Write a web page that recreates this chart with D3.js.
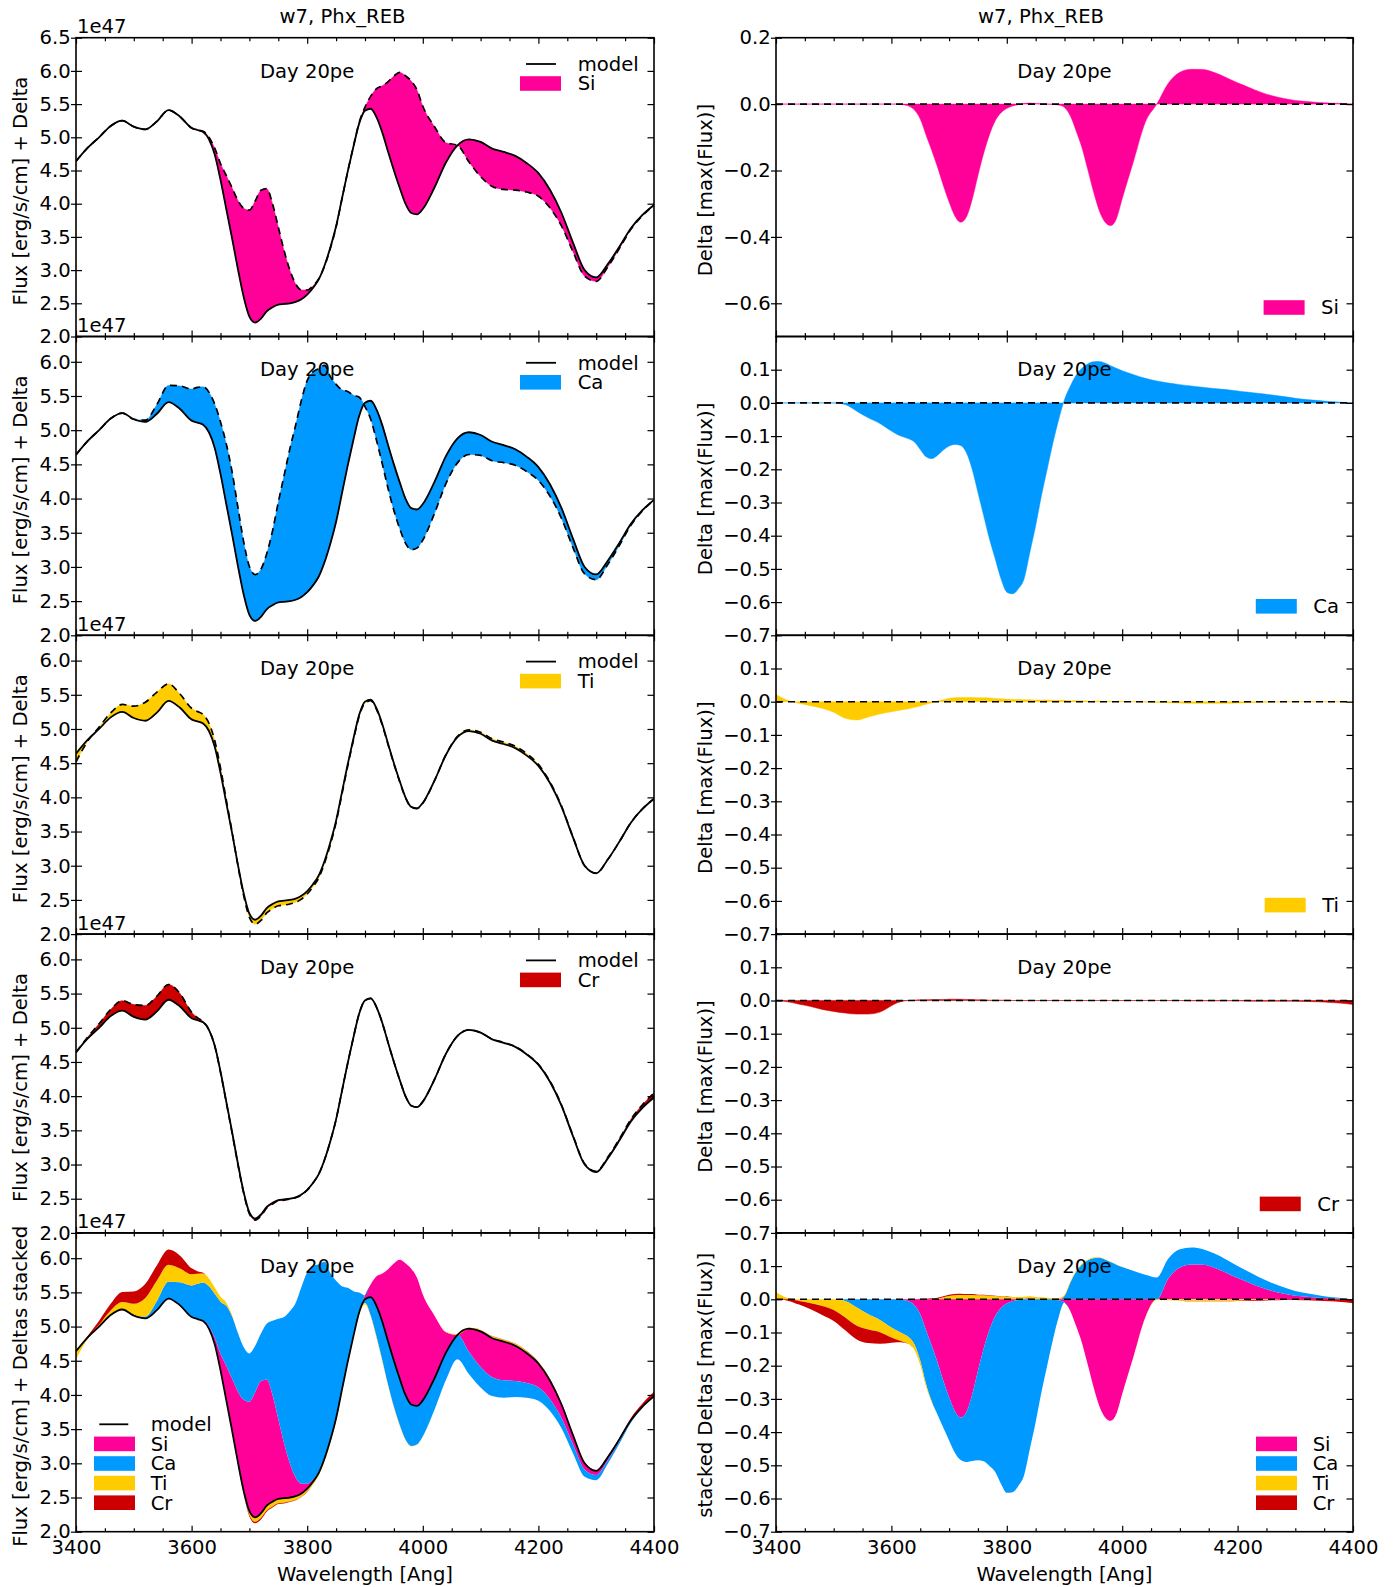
<!DOCTYPE html>
<html>
<head>
<meta charset="utf-8">
<script src="https://cdn.jsdelivr.net/npm/d3@7"></script>
<style>
  body { margin: 0; background: #fff; }
  text { font-family: "DejaVu Sans", sans-serif; font-size: 19.6px; fill: #000; }
</style>
</head>
<body>
<svg id="chart" width="1397" height="1587"></svg>
<script>
// ---------------- data ----------------
const WAVE = [3400,3420,3440,3460,3480,3500,3520,3540,3560,3580,3600,
  3610,3620,3630,3640,3650,3660,3670,3680,3690,3700,
  3710,3720,3730,3740,3750,3760,3770,3780,3790,3800,
  3810,3820,3830,3840,3850,3860,3870,3880,3890,3900,
  3910,3920,3930,3940,3950,3960,3970,3980,3990,4000,
  4020,4040,4060,4080,4100,4120,4140,4160,4180,4200,
  4220,4240,4260,4280,4300,4320,4340,4360,4380,4400];

// model flux [1e47 erg/s/cm]
const MODEL = [4.64,4.84,5.00,5.17,5.25,5.16,5.12,5.24,5.41,5.31,5.14,
  5.11,5.08,4.97,4.74,4.36,3.92,3.48,3.02,2.60,2.30,
  2.21,2.27,2.38,2.44,2.48,2.49,2.50,2.52,2.56,2.63,
  2.73,2.86,3.07,3.34,3.66,4.07,4.48,4.86,5.21,5.40,
  5.43,5.30,5.07,4.78,4.50,4.24,4.00,3.86,3.84,3.92,
  4.24,4.62,4.88,4.97,4.93,4.83,4.78,4.72,4.61,4.46,
  4.21,3.86,3.41,3.00,2.89,3.09,3.35,3.63,3.83,3.98];

// deltas [max(Flux)]
const SI = [0,0,0,0,0,0,0,0,0,0,0,
  0,-0.002,-0.006,-0.018,-0.045,-0.093,-0.14,-0.19,-0.245,-0.295,
  -0.337,-0.356,-0.34,-0.287,-0.215,-0.148,-0.092,-0.05,-0.026,-0.013,
  -0.006,-0.002,0.002,0.003,0.002,0.001,0,-0.001,-0.003,-0.01,
  -0.035,-0.08,-0.13,-0.195,-0.262,-0.32,-0.355,-0.366,-0.345,-0.285,
  -0.17,-0.055,0,0.063,0.096,0.105,0.104,0.095,0.08,0.064,
  0.05,0.036,0.025,0.017,0.011,0.008,0.005,0.003,0.002,0];

const CA = [0,0,0,0,0,0,-0.005,-0.025,-0.045,-0.062,-0.085,
  -0.095,-0.102,-0.108,-0.118,-0.14,-0.162,-0.168,-0.158,-0.142,-0.13,
  -0.125,-0.128,-0.15,-0.2,-0.27,-0.34,-0.41,-0.47,-0.53,-0.57,
  -0.575,-0.56,-0.53,-0.45,-0.37,-0.28,-0.2,-0.12,-0.05,0.01,
  0.05,0.083,0.104,0.117,0.124,0.125,0.12,0.112,0.104,0.097,
  0.085,0.074,0.066,0.06,0.055,0.051,0.047,0.043,0.04,0.036,
  0.032,0.028,0.024,0.019,0.014,0.01,0.007,0.004,0.002,0];

const TI = [0.022,0.004,-0.005,-0.012,-0.02,-0.032,-0.05,-0.055,-0.046,-0.037,-0.03,
  -0.027,-0.024,-0.021,-0.017,-0.013,-0.008,-0.003,0.002,0.006,0.01,
  0.012,0.013,0.013,0.013,0.012,0.012,0.011,0.01,0.009,0.008,
  0.007,0.007,0.006,0.006,0.005,0.005,0.005,0.004,0.004,0.004,
  0.003,0.003,0.003,0.002,0.002,0.002,0.001,0.001,0.001,0.001,
  0,-0.001,-0.002,-0.003,-0.004,-0.005,-0.005,-0.005,-0.005,-0.004,
  -0.003,-0.002,-0.001,0,0,0,0,0,0,0];

const CR = [0,-0.004,-0.011,-0.018,-0.027,-0.033,-0.038,-0.041,-0.041,-0.035,-0.016,
  -0.007,-0.002,0,0.001,0.002,0.002,0.003,0.003,0.003,0.004,
  0.004,0.004,0.003,0.003,0.002,0.002,0.001,0.001,0.001,0.001,
  0,0,0,0,0,0,0,0,0,0,
  0,0,0,0,0,0,0,0,0,0,
  0,0,0,0,0,-0.001,-0.001,-0.001,-0.001,-0.001,
  -0.002,-0.002,-0.002,-0.002,-0.002,-0.003,-0.004,-0.006,-0.008,-0.012];

const ELEMENTS = ["Si", "Ca", "Ti", "Cr"];
const COLORS = {Si: "#ff0099", Ca: "#0099ff", Ti: "#ffcc00", Cr: "#cc0000"};
const X_TICKS = [3400, 3600, 3800, 4000, 4200, 4400];
const LEFT_Y_TICKS_FIRST = [2.0, 2.5, 3.0, 3.5, 4.0, 4.5, 5.0, 5.5, 6.0, 6.5];
const LEFT_Y_TICKS = [2.0, 2.5, 3.0, 3.5, 4.0, 4.5, 5.0, 5.5, 6.0];
const RIGHT_Y_TICKS_FIRST = [-0.6, -0.4, -0.2, 0.0, 0.2];
const RIGHT_Y_TICKS = [-0.7, -0.6, -0.5, -0.4, -0.3, -0.2, -0.1, 0.0, 0.1];
const TITLE = "w7, Phx_REB";
const DAY = "Day 20pe";
const XLABEL = "Wavelength [Ang]";
const LEFT_YLABELS = ["Flux [erg/s/cm] + Delta", "Flux [erg/s/cm] + Delta", "Flux [erg/s/cm] + Delta",
  "Flux [erg/s/cm] + Delta", "Flux [erg/s/cm] + Deltas stacked"];
const RIGHT_YLABELS = ["Delta [max(Flux)]", "Delta [max(Flux)]", "Delta [max(Flux)]",
  "Delta [max(Flux)]", "stacked Deltas [max(Flux)]"];

// ---------------- layout ----------------
const svg = d3.select("#chart");
const TOP0 = 37.7, PH = 298.8;
const LX = [76, 654], RX = [776, 1353];
const series = {Si: SI, Ca: CA, Ti: TI, Cr: CR};
const table = WAVE.map((w, i) => {
  const o = {wave: w, model: MODEL[i]};
  ELEMENTS.forEach(e => o[e] = series[e][i]);
  return o;
});
const MAXF = d3.max(MODEL);
// positive and negative parts are stacked separately (diverging stack without jumps)
const stackPos = d3.stack().keys(ELEMENTS).value((d, k) => Math.max(0, d[k]))(table);
const stackNeg = d3.stack().keys(ELEMENTS).value((d, k) => Math.min(0, d[k]))(table);
const curve = d3.curveMonotoneX;
const X_MINOR = d3.range(3400, 4401, 50).filter(v => v % 200 !== 0);
const fmt1 = d3.format(".1f");
let clipN = 0;

const xL = d3.scaleLinear().domain([3400, 4400]).range(LX);
const xR = d3.scaleLinear().domain([3400, 4400]).range(RX);

function clean(g) {
  g.select(".domain").remove();
  g.selectAll(".tick line").attr("stroke-width", 1.2);
  g.attr("font-size", null).attr("font-family", null);
}

function makePlot(x, top, bottom) {
  const id = "clip" + (clipN++);
  svg.append("clipPath").attr("id", id).append("rect")
    .attr("x", x.range()[0]).attr("y", top)
    .attr("width", x.range()[1] - x.range()[0]).attr("height", bottom - top);
  return svg.append("g").attr("clip-path", `url(#${id})`);
}

function axes(x, y, top, bottom, yTicks, showX) {
  const g = svg.append("g");
  const [x0, x1] = x.range();
  g.append("g").attr("transform", `translate(0,${bottom})`)
    .call(d3.axisBottom(x).tickValues(X_TICKS).tickSizeInner(-6).tickSizeOuter(0)
      .tickPadding(8.5).tickFormat(showX ? d3.format("d") : () => "")).call(clean);
  g.append("g").attr("transform", `translate(0,${bottom})`)
    .call(d3.axisBottom(x).tickValues(X_MINOR).tickSizeInner(-3.5).tickSizeOuter(0).tickFormat(() => "")).call(clean);
  g.append("g").attr("transform", `translate(0,${top})`)
    .call(d3.axisTop(x).tickValues(X_TICKS).tickSizeInner(-6).tickSizeOuter(0).tickFormat(() => "")).call(clean);
  g.append("g").attr("transform", `translate(0,${top})`)
    .call(d3.axisTop(x).tickValues(X_MINOR).tickSizeInner(-3.5).tickSizeOuter(0).tickFormat(() => "")).call(clean);
  g.append("g").attr("transform", `translate(${x0},0)`)
    .call(d3.axisLeft(y).tickValues(yTicks).tickSizeInner(-6).tickSizeOuter(0).tickPadding(5.3).tickFormat(fmt1)).call(clean);
  g.append("g").attr("transform", `translate(${x0},0)`)
    .call(d3.axisLeft(y).tickValues(yTicks).tickSizeInner(5).tickSizeOuter(0).tickFormat(() => "")).call(clean);
  g.append("g").attr("transform", `translate(${x1},0)`)
    .call(d3.axisRight(y).tickValues(yTicks).tickSizeInner(-6.5).tickSizeOuter(0).tickFormat(() => "")).call(clean);
  g.append("rect").attr("x", x0).attr("y", top).attr("width", x1 - x0).attr("height", bottom - top)
    .attr("fill", "none").attr("stroke", "#000").attr("stroke-width", 1.6);
}

function patch(g, x, yc, color) {
  g.append("rect").attr("x", x).attr("y", yc - 7.3).attr("width", 41).attr("height", 14.6).attr("fill", color);
}

function stackedAreas(plot, x, y, toY) {
  [stackPos, stackNeg].forEach(st => st.forEach(s => {
    plot.append("path").datum(s)
      .attr("d", d3.area().x(d => x(d.data.wave))
        .y0(d => y(toY(d.data, d[0]))).y1(d => y(toY(d.data, d[1]))).curve(curve))
      .attr("fill", COLORS[s.key]);
  }));
}

for (let row = 0; row < 5; row++) {
  const top = TOP0 + row * PH, bottom = top + PH;
  const showX = row === 4;

  // ---------- left column ----------
  const yL = d3.scaleLinear().domain(row === 0 ? [2.0, 6.5] : [2.0, 6.37]).range([bottom, top]);
  const pL = makePlot(xL, top, bottom);
  if (row < 4) {
    const e = ELEMENTS[row];
    pL.append("path").datum(table)
      .attr("d", d3.area().x(d => xL(d.wave)).y0(d => yL(d.model)).y1(d => yL(d.model - d[e] * MAXF)).curve(curve))
      .attr("fill", COLORS[e]).attr("stroke", COLORS[e]).attr("stroke-width", 0.5);
    pL.append("path").datum(table)
      .attr("d", d3.line().x(d => xL(d.wave)).y(d => yL(d.model - d[e] * MAXF)).curve(curve))
      .attr("fill", "none").attr("stroke", "#000").attr("stroke-width", 1.7).attr("stroke-dasharray", "7,5");
  } else {
    stackedAreas(pL, xL, yL, (r, v) => r.model - v * MAXF);
  }
  pL.append("path").datum(table)
    .attr("d", d3.line().x(d => xL(d.wave)).y(d => yL(d.model)).curve(curve))
    .attr("fill", "none").attr("stroke", "#000").attr("stroke-width", 1.8);
  axes(xL, yL, top, bottom, row === 0 ? LEFT_Y_TICKS_FIRST : LEFT_Y_TICKS, showX);

  // ---------- right column ----------
  const yR = d3.scaleLinear().domain([-0.7, 0.2]).range([bottom, top]);
  const pR = makePlot(xR, top, bottom);
  if (row < 4) {
    const e = ELEMENTS[row];
    pR.append("path").datum(table)
      .attr("d", d3.area().x(d => xR(d.wave)).y0(yR(0)).y1(d => yR(d[e])).curve(curve))
      .attr("fill", COLORS[e]).attr("stroke", COLORS[e]).attr("stroke-width", 0.5);
  } else {
    stackedAreas(pR, xR, yR, (r, v) => v);
  }
  pR.append("path").datum([3400, 4400])
    .attr("d", d3.line().x(d => xR(d)).y(() => yR(0)))
    .attr("fill", "none").attr("stroke", "#000").attr("stroke-width", 1.6).attr("stroke-dasharray", "7,5");
  axes(xR, yR, top, bottom, row === 0 ? RIGHT_Y_TICKS_FIRST : RIGHT_Y_TICKS, showX);

  // ---------- texts ----------
  svg.append("text").attr("x", LX[0] + 0.4 * (LX[1] - LX[0])).attr("y", top + 39.8)
    .attr("text-anchor", "middle").text(DAY);
  svg.append("text").attr("x", RX[0] + 0.5 * (RX[1] - RX[0])).attr("y", top + 39.8)
    .attr("text-anchor", "middle").text(DAY);
  svg.append("text").attr("x", 77).attr("y", top - 4.5).text("1e47");

  svg.append("text").attr("transform", `translate(20,${(top + bottom) / 2 + 4}) rotate(-90)`)
    .attr("text-anchor", "middle").attr("dominant-baseline", "central").text(LEFT_YLABELS[row]);
  svg.append("text").attr("transform", `translate(705,${(top + bottom) / 2 + 3}) rotate(-90)`)
    .attr("text-anchor", "middle").attr("dominant-baseline", "central").text(RIGHT_YLABELS[row]);

  // ---------- legends ----------
  const lg = svg.append("g");
  if (row < 4) {
    const e = ELEMENTS[row];
    lg.append("line").attr("x1", 526).attr("x2", 556).attr("y1", top + 26.3).attr("y2", top + 26.3)
      .attr("stroke", "#000").attr("stroke-width", 1.8);
    lg.append("text").attr("x", 577.7).attr("y", top + 26.3 + 6.8).text("model");
    patch(lg, 520, top + 45.8, COLORS[e]);
    lg.append("text").attr("x", 577.7).attr("y", top + 45.8 + 6.8).text(e);
    const t = lg.append("text").attr("x", 1339).attr("y", bottom - 29 + 6.8).attr("text-anchor", "end").text(e);
    const tw = t.node().getComputedTextLength();
    patch(lg, 1339 - tw - 16.5 - 41, bottom - 29, COLORS[e]);
  } else {
    const yc0 = bottom - 29 - 4 * 19.6;
    lg.append("line").attr("x1", 99.3).attr("x2", 128.3).attr("y1", yc0).attr("y2", yc0)
      .attr("stroke", "#000").attr("stroke-width", 1.8);
    lg.append("text").attr("x", 150.7).attr("y", yc0 + 6.8).text("model");
    ELEMENTS.forEach((e, k) => {
      const yc = bottom - 29 - (3 - k) * 19.6;
      patch(lg, 94, yc, COLORS[e]);
      lg.append("text").attr("x", 150.7).attr("y", yc + 6.8).text(e);
      patch(lg, 1256, yc, COLORS[e]);
      lg.append("text").attr("x", 1312.7).attr("y", yc + 6.8).text(e);
    });
  }
}

// titles and x labels
svg.append("text").attr("x", 342.5).attr("y", 22.5).attr("text-anchor", "middle").text(TITLE);
svg.append("text").attr("x", 1041).attr("y", 22.5).attr("text-anchor", "middle").text(TITLE);
svg.append("text").attr("x", (LX[0] + LX[1]) / 2).attr("y", 1580.5).attr("text-anchor", "middle").text(XLABEL);
svg.append("text").attr("x", (RX[0] + RX[1]) / 2).attr("y", 1580.5).attr("text-anchor", "middle").text(XLABEL);
</script>
</body>
</html>
